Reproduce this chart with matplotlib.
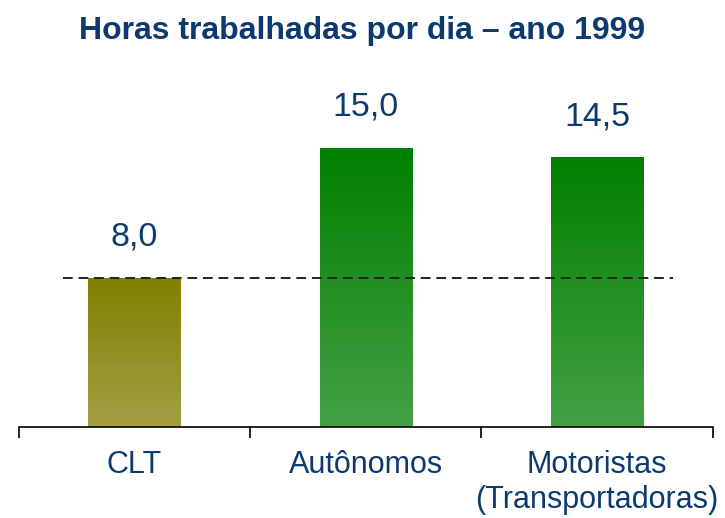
import numpy as np
import matplotlib
matplotlib.use("Agg")
import matplotlib.pyplot as plt
from matplotlib.colors import LinearSegmentedColormap

# dados
categorias = ["CLT", "Autônomos", "Motoristas\n(Transportadoras)"]
horas = [8.0, 15.0, 14.5]
rotulos = ["8,0", "15,0", "14,5"]
referencia = 8.0

cor_texto = "#0d3a6e"
cores_topo = ["#808000", "#008000", "#008000"]
cores_base = ["#a3a045", "#45a045", "#45a045"]

plt.rcParams["font.family"] = ["Liberation Sans", "DejaVu Sans"]

fig = plt.figure(figsize=(7.25, 5.18), dpi=100)
ax = fig.add_axes([0.026, 0.176, 0.957, 0.71])

x = np.arange(len(categorias))
largura = 0.4
barras = ax.bar(x, horas, width=largura, color="none", edgecolor="none")

# preenchimento em degradê dentro de cada barra
grad = np.linspace(0, 1, 256).reshape(-1, 1)
for b, c_top, c_bot in zip(barras, cores_topo, cores_base):
    cmap = LinearSegmentedColormap.from_list("g", [c_bot, c_top])
    x0, w, h = b.get_x(), b.get_width(), b.get_height()
    im = ax.imshow(grad, cmap=cmap, origin="lower", aspect="auto",
                   extent=[x0, x0 + w, 0, h], zorder=1)
    im.set_clip_path(b)

# linha tracejada de referência
ax.plot([-0.31, 2.33], [referencia, referencia], linestyle="--",
        color="#222222", linewidth=1.4, dashes=(5, 3), zorder=3)

for xi, h, r in zip(x, horas, rotulos):
    ax.text(xi, h + 2.2, r, ha="center", va="center", fontsize=24.5,
            color=cor_texto)

ax.set_xlim(-0.5, 2.5)
ax.set_ylim(0, 19.8)

ax.set_xticks([-0.5, 0.5, 1.5, 2.5])
ax.set_xticklabels([])
ax.tick_params(axis="x", which="major", direction="out", length=8,
               width=1.2, color="black")
ax.set_xticks(x, minor=True)
ax.set_xticklabels(categorias, minor=True, fontsize=22, color=cor_texto,
                   linespacing=1.2, va="top")
ax.tick_params(axis="x", which="minor", length=0, pad=17)

ax.set_yticks([])
for s in ["left", "top", "right"]:
    ax.spines[s].set_visible(False)
ax.spines["bottom"].set_linewidth(1.2)

fig.text(0.5, 0.94, "Horas trabalhadas por dia – ano 1999", ha="center",
         va="center", fontsize=23, fontweight="bold", color=cor_texto)

fig.savefig("out.png", dpi=100)
